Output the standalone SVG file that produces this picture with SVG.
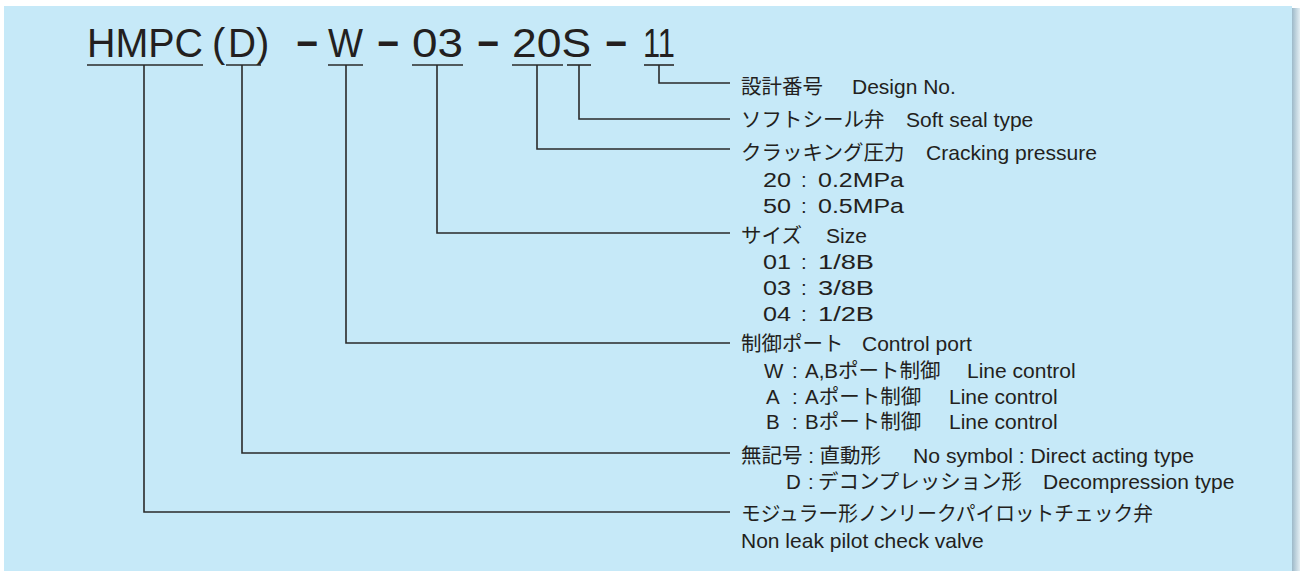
<svg xmlns="http://www.w3.org/2000/svg" width="1300" height="571" viewBox="0 0 1300 571">
<defs>
<linearGradient id="sh" x1="0" y1="0" x2="1" y2="0">
<stop offset="0" stop-color="#9db9c9"/>
<stop offset="1" stop-color="#e3eef3"/>
</linearGradient>
<style>
.t{font-family:"Liberation Sans","Noto Sans CJK JP",sans-serif;fill:#231f20}
.title{font-size:40px}
.dash{font-weight:bold}
.lb{font-size:20.5px}
.en{font-size:21px}
.ln{fill:none;stroke:#2a2a2a;stroke-width:1.6}
</style>
</defs>
<rect x="0" y="0" width="1300" height="571" fill="#ffffff"/>
<rect x="1292" y="8" width="8" height="563" fill="url(#sh)"/>
<rect x="4" y="6" width="1288" height="565" fill="#c6e9f8"/>

<g id="title-HMPC">
<text class="t title" x="87" y="57" textLength="116" lengthAdjust="spacingAndGlyphs">HMPC</text>
<line class="ln" x1="87" y1="65" x2="203" y2="65"/>
</g>
<g id="title-D">
<text class="t title" x="212" y="57">(</text>
<text class="t title" x="228" y="57" textLength="28" lengthAdjust="spacingAndGlyphs">D</text>
<text class="t title" x="256" y="57">)</text>
<line class="ln" x1="226" y1="65" x2="261" y2="65"/>
</g>
<g id="title-dashes">
<text class="t title dash" x="296" y="57" textLength="22" lengthAdjust="spacingAndGlyphs">−</text>
<text class="t title dash" x="377" y="57" textLength="22" lengthAdjust="spacingAndGlyphs">−</text>
<text class="t title dash" x="477" y="57" textLength="22" lengthAdjust="spacingAndGlyphs">−</text>
<text class="t title dash" x="605" y="57" textLength="22" lengthAdjust="spacingAndGlyphs">−</text>
</g>
<g id="title-W">
<text class="t title" x="328" y="57" textLength="35" lengthAdjust="spacingAndGlyphs">W</text>
<line class="ln" x1="328" y1="65" x2="363" y2="65"/>
</g>
<g id="title-03">
<text class="t title" x="412" y="57" textLength="51" lengthAdjust="spacingAndGlyphs">03</text>
<line class="ln" x1="412" y1="65" x2="463" y2="65"/>
</g>
<g id="title-20">
<text class="t title" x="512" y="57" textLength="79" lengthAdjust="spacingAndGlyphs">20S</text>
<line class="ln" x1="512" y1="65" x2="563" y2="65"/>
</g>
<g id="title-S">
<line class="ln" x1="567" y1="65" x2="591" y2="65"/>
</g>
<g id="title-11">
<text class="t title" x="643" y="57" textLength="32" lengthAdjust="spacingAndGlyphs">11</text>
<line class="ln" x1="644" y1="65" x2="674" y2="65"/>
</g>

<g id="connectors">
<polyline class="ln" points="659,65 659,83 730,83"/>
<polyline class="ln" points="579,65 579,119 730,119"/>
<polyline class="ln" points="537,65 537,149 730,149"/>
<polyline class="ln" points="437,65 437,233 730,233"/>
<polyline class="ln" points="346,65 346,343 730,343"/>
<polyline class="ln" points="242,65 242,453 730,453"/>
<polyline class="ln" points="144,65 144,512 730,512"/>
</g>

<g id="label-design">
<text class="t lb" x="741" y="94">設計番号</text>
<text class="t en" x="852" y="94">Design No.</text>
</g>
<g id="label-seal">
<text class="t lb" x="741" y="127">ソフトシール弁</text>
<text class="t en" x="906" y="127">Soft seal type</text>
</g>
<g id="label-cracking">
<text class="t lb" x="741" y="160">クラッキング圧力</text>
<text class="t en" x="926" y="160" textLength="171" lengthAdjust="spacingAndGlyphs">Cracking pressure</text>
<text class="t lb" y="187"><tspan x="763" textLength="28" lengthAdjust="spacingAndGlyphs">20</tspan><tspan x="801">:</tspan><tspan x="818" textLength="86" lengthAdjust="spacingAndGlyphs">0.2MPa</tspan></text>
<text class="t lb" y="213"><tspan x="763" textLength="28" lengthAdjust="spacingAndGlyphs">50</tspan><tspan x="801">:</tspan><tspan x="818" textLength="86" lengthAdjust="spacingAndGlyphs">0.5MPa</tspan></text>
</g>
<g id="label-size">
<text class="t lb" x="741" y="243">サイズ</text>
<text class="t en" x="826" y="243">Size</text>
<text class="t lb" y="269"><tspan x="763" textLength="28" lengthAdjust="spacingAndGlyphs">01</tspan><tspan x="801">:</tspan><tspan x="818" textLength="56" lengthAdjust="spacingAndGlyphs">1/8B</tspan></text>
<text class="t lb" y="295"><tspan x="763" textLength="28" lengthAdjust="spacingAndGlyphs">03</tspan><tspan x="801">:</tspan><tspan x="818" textLength="56" lengthAdjust="spacingAndGlyphs">3/8B</tspan></text>
<text class="t lb" y="321"><tspan x="763" textLength="28" lengthAdjust="spacingAndGlyphs">04</tspan><tspan x="801">:</tspan><tspan x="818" textLength="56" lengthAdjust="spacingAndGlyphs">1/2B</tspan></text>
</g>
<g id="label-port">
<text class="t lb" x="741" y="351">制御ポート</text>
<text class="t en" x="862" y="351">Control port</text>
<text class="t lb" y="378"><tspan x="764">W</tspan><tspan x="792">:</tspan><tspan x="805">A,Bポート制御</tspan></text>
<text class="t en" x="967" y="378">Line control</text>
<text class="t lb" y="404"><tspan x="766">A</tspan><tspan x="792">:</tspan><tspan x="805">Aポート制御</tspan></text>
<text class="t en" x="949" y="404">Line control</text>
<text class="t lb" y="429"><tspan x="766">B</tspan><tspan x="792">:</tspan><tspan x="805">Bポート制御</tspan></text>
<text class="t en" x="949" y="429">Line control</text>
</g>
<g id="label-type">
<text class="t lb" x="741" y="463">無記号 : 直動形</text>
<text class="t en" x="913" y="463" textLength="281" lengthAdjust="spacingAndGlyphs">No symbol : Direct acting type</text>
<text class="t lb" y="489"><tspan x="786">D</tspan><tspan x="808">:</tspan><tspan x="818" textLength="204" lengthAdjust="spacingAndGlyphs">デコンプレッション形</tspan></text>
<text class="t en" x="1043" y="489">Decompression type</text>
</g>
<g id="label-name">
<text class="t lb" x="741" y="521" textLength="412" lengthAdjust="spacingAndGlyphs">モジュラー形ノンリークパイロットチェック弁</text>
<text class="t en" x="741" y="548">Non leak pilot check valve</text>
</g>
</svg>
